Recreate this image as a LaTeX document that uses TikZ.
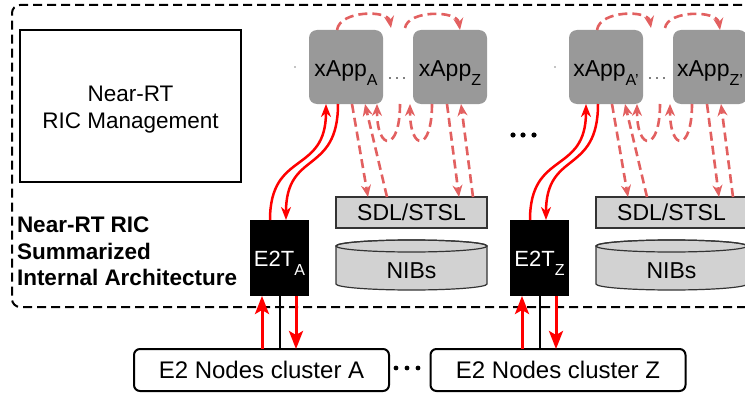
\documentclass[tikz,border=0pt]{standalone}
\usepackage{fontspec}
\setmainfont{Liberation Sans}
\usetikzlibrary{arrows.meta}
\definecolor{pinkred}{RGB}{226,96,96}
\definecolor{appgray}{RGB}{153,153,153}
\definecolor{sdlgray}{RGB}{210,210,210}
\newcommand{\mysub}[1]{\raisebox{-9pt}{\fontsize{16}{16}\selectfont #1}}
\begin{document}
\begin{tikzpicture}[x=1pt,y=1pt,
  every node/.style={inner sep=0pt, outer sep=0pt},
  xappbox/.style={fill=appgray, rounded corners=8pt, minimum width=74pt, minimum height=74pt, font=\fontsize{23}{26}\selectfont, text height=19.4pt, text depth=0pt},
  e2tbox/.style={fill=black, text=white, minimum width=59pt, minimum height=76pt, font=\fontsize{22}{26}\selectfont, text height=17.4pt, text depth=0pt},
  sdlbox/.style={fill=sdlgray, draw=black!80, line width=1.2pt, minimum width=151pt, minimum height=31pt, font=\fontsize{23}{26}\selectfont},
  clusterbox/.style={draw=black, line width=2pt, rounded corners=6pt, minimum width=255pt, minimum height=42pt, font=\fontsize{24}{28}\selectfont},
  redcurve/.style={red, line width=2.5pt, -{Stealth[length=13pt,width=10pt,inset=4pt]}},
  redvert/.style={red, line width=3pt, -{Stealth[length=18pt,width=14pt,inset=4pt]}},
  pinkarrow/.style={pinkred, line width=2.6pt, dash pattern=on 9pt off 5pt, -{Stealth[length=12pt,width=10pt,inset=4pt]}},
]
\useasboundingbox (0,0) rectangle (745,392);
% outer dashed frame
\draw[line width=2pt, dash pattern=on 9pt off 5pt, rounded corners=8pt] (770,387) -- (12,387) -- (12,85) -- (770,85);
% management box
\node[draw, line width=1.2pt, minimum width=221pt, minimum height=152pt] (mgmt) at (130.5,286) {};
\node[align=center, font=\fontsize{22.5}{27.3}\selectfont] (mgmttext) at ([yshift=-3.8pt]mgmt.center) {Near-RT\\RIC Management};
% title
\node[anchor=north west, align=left, font=\fontsize{22.5}{26.7}\selectfont\bfseries] (title) at (17,175.3) {Near-RT RIC\\Summarized\\Internal Architecture};

\foreach \s/\dx/\ea/\eb/\et/\cx in {l/0/A/Z/A/261.5, r/260/A'/Z'/Z/558} {
  \node[xappbox] (xa\s) at ({346+\dx},325) {xApp\mysub{\ea}};
  \node[xappbox] (xb\s) at ({450+\dx},325) {xApp\mysub{\eb}};
  \node[sdlbox] (sdl\s) at ({411.5+\dx},179.5) {SDL/STSL};
  \filldraw[fill=sdlgray, draw=black!80, line width=1.2pt] ({336+\dx},146) -- ({336+\dx},108) arc[start angle=180, end angle=360, x radius=75.5pt, y radius=6pt] -- ({487+\dx},146) arc[start angle=0, end angle=180, x radius=75.5pt, y radius=6pt] -- cycle;
  \draw[black!80, line width=1.2pt] ({411.5+\dx},146) ellipse[x radius=75.5pt, y radius=6pt];
  \node[font=\fontsize{23}{26}\selectfont] (nib\s) at ({411.5+\dx},121) {NIBs};
  \node[e2tbox] (e2t\s) at ({279.5+\dx},134) {E2T\mysub{\et}};
  \node[clusterbox] (cl\s) at (\cx,22) {E2 Nodes cluster \et};
  % tiny dots
  \fill ({295+\dx},325) circle (0.7pt);
  \foreach \d in {390,397,404} \fill ({\d+\dx},314) circle (0.9pt);
  % top dashed arcs
  \draw[pinkarrow] ([xshift=28pt]xa\s.north west) .. controls +(3,20) and +(-3,18) .. ([xshift=82pt,yshift=2pt]xa\s.north west);
  \draw[pinkarrow] ([xshift=-8pt,yshift=2pt]xb\s.north west) .. controls +(3,18) and +(-3,20) .. ([xshift=47pt]xb\s.north west);
  % bottom dashed
  \draw[pinkarrow] ([xshift=43pt]xa\s.south west) -- ([xshift=32pt]sdl\s.north west);
  \draw[pinkarrow] ([xshift=51pt]sdl\s.north west) -- ([xshift=56pt]xa\s.south west);
  \draw[pinkarrow] ([xshift=-13pt]xb\s.south west) .. controls +(0,-48) and +(0,-48) .. ([xshift=68pt]xa\s.south west);
  \draw[pinkarrow] ([xshift=19pt]xb\s.south west) .. controls +(0,-48) and +(0,-48) .. ([xshift=-3pt]xb\s.south west);
  \draw[pinkarrow] ([xshift=34pt]xb\s.south west) -- ([xshift=123pt]sdl\s.north west);
  \draw[pinkarrow] ([xshift=137pt]sdl\s.north west) -- ([xshift=48pt]xb\s.south west);
  % red curves
  \draw[redcurve] ([xshift=20pt]e2t\s.north west) .. controls +(0,70) and +(0,-71) .. ([xshift=17pt]xa\s.south west);
  \draw[redcurve] ([xshift=29pt]xa\s.south west) .. controls +(0,-71) and +(0,70) .. ([xshift=36pt]e2t\s.north west);
  % E2T to cluster
  \draw[line width=2pt] (e2t\s.south) -- (e2t\s.south |- cl\s.north);
  \draw[redvert] ([xshift=-17.5pt]e2t\s.south |- cl\s.north) -- ([xshift=-17.5pt]e2t\s.south);
  \draw[redvert] ([xshift=16.5pt]e2t\s.south) -- ([xshift=16.5pt]e2t\s.south |- cl\s.north);
}
% big ellipses
\foreach \d in {513,523,534} \fill (\d,257) circle (2.6pt);
\foreach \d in {396,407,418} \fill (\d,24) circle (2.4pt);
\end{tikzpicture}
\end{document}
